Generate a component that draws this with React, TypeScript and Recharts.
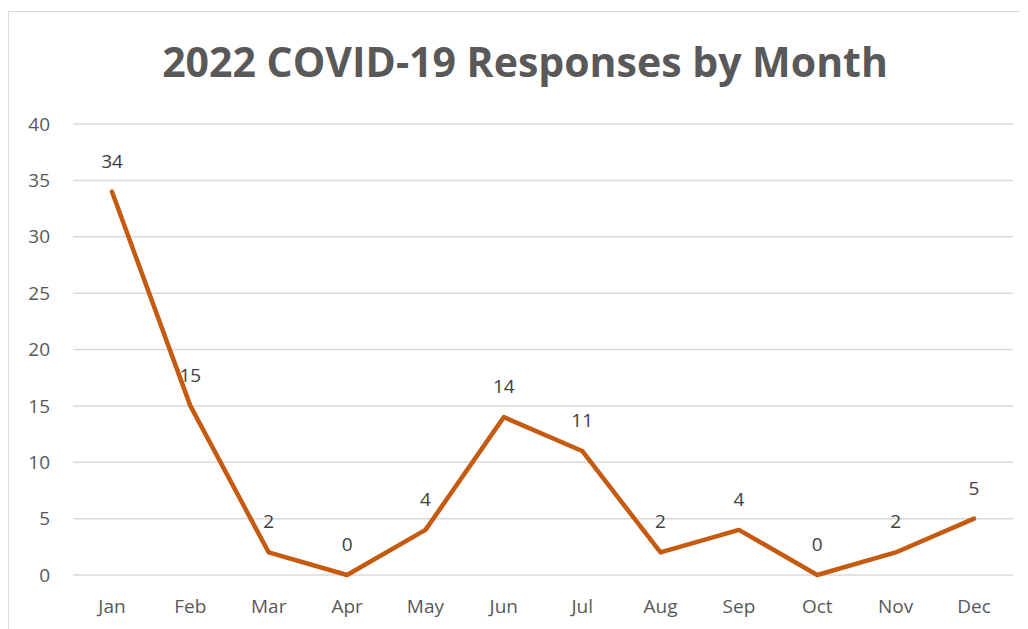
import React from "react";
import { LineChart, Line, XAxis, YAxis, CartesianGrid, LabelList } from "recharts";

const months = ["Jan", "Feb", "Mar", "Apr", "May", "Jun", "Jul", "Aug", "Sep", "Oct", "Nov", "Dec"];
const responses = [34, 15, 2, 0, 4, 14, 11, 2, 4, 0, 2, 5];
const yTicks = [0, 5, 10, 15, 20, 25, 30, 35, 40];
const title = "2022 COVID-19 Responses by Month";

const data = months.map((m, i) => ({ month: m, value: responses[i] }));

const FONT = "'Open Sans', 'Noto Sans', sans-serif";

export default function App() {
  return (
    <div style={{ position: "relative", width: 1020, height: 621, overflow: "hidden", background: "#fff" }}>
      <div
        style={{
          position: "absolute",
          left: 0,
          top: 3,
          width: 1100,
          height: 700,
          border: "1.5px solid #d9d9d9",
          boxSizing: "border-box",
        }}
      />
      <svg width={1020} height={621} style={{ position: "absolute", left: 0, top: 0, pointerEvents: "none" }}>
        <text
          x={517}
          y={69}
          textAnchor="middle"
          fontFamily={FONT}
          fontWeight={700}
          fontSize={41}
          fill="#595959"
        >
          {title}
        </text>
      </svg>
      <div style={{ position: "absolute", left: 0, top: 0 }}>
        <LineChart
          width={1020}
          height={621}
          data={data}
          margin={{ top: 116, right: 15, bottom: 0, left: 0 }}
        >
          <CartesianGrid vertical={false} stroke="#d9d9d9" strokeWidth={1.5} />
          <XAxis
            dataKey="month"
            axisLine={false}
            tickLine={false}
            tickSize={0}
            tickMargin={25}
            height={54}
            padding={{ left: 39, right: 39 }}
            tick={{ fill: "#595959", fontSize: 19, fontFamily: FONT }}
            interval={0}
          />
          <YAxis
            domain={[0, 40]}
            ticks={yTicks}
            axisLine={false}
            tickLine={false}
            tickSize={0}
            tickMargin={23}
            width={65}
            tick={{ fill: "#595959", fontSize: 19, fontFamily: FONT }}
            interval={0}
          />
          <Line
            type="linear"
            dataKey="value"
            stroke="#C55A11"
            strokeWidth={4.5}
            dot={false}
            isAnimationActive={false}
            strokeLinecap="round"
            strokeLinejoin="round"
          >
            <LabelList
              dataKey="value"
              position="top"
              offset={24}
              fill="#404040"
              fontSize={19}
              fontFamily={FONT}
            />
          </Line>
        </LineChart>
      </div>
    </div>
  );
}
